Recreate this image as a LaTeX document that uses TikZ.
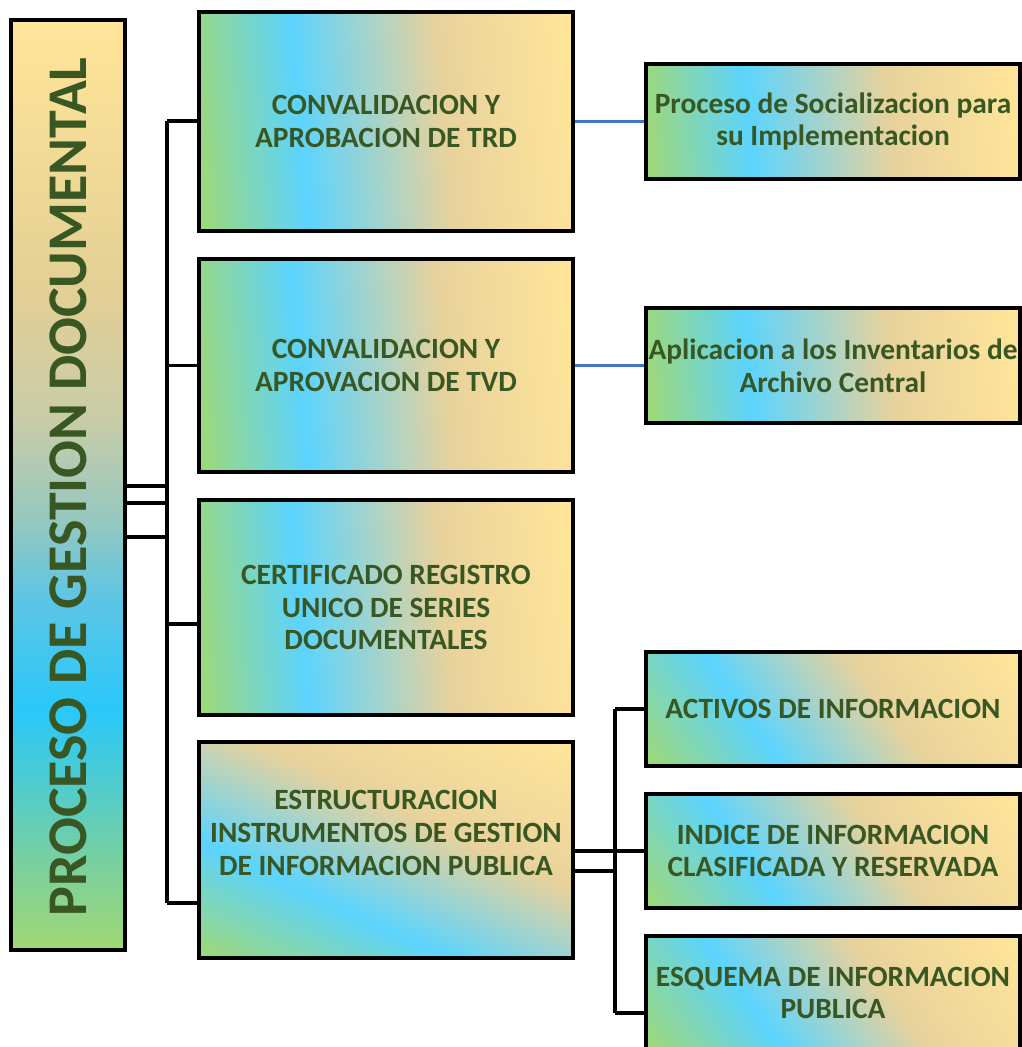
\documentclass[tikz,border=0pt]{standalone}
\usepackage{fontspec}
\setmainfont{Carlito}
\definecolor{cG}{HTML}{A0D874}
\definecolor{cC}{HTML}{5CD4FE}
\definecolor{cT}{HTML}{E8D29C}
\definecolor{cY}{HTML}{FFE699}
\definecolor{lTeal}{HTML}{78D0A0}
\definecolor{lC}{HTML}{29C8FA}
\definecolor{lC2}{HTML}{5CC5E5}
\definecolor{lMid}{HTML}{96C8C0}
\definecolor{lMid2}{HTML}{C8CCA8}
\definecolor{lT}{HTML}{E2CF95}
\definecolor{lY}{HTML}{FFE598}
\definecolor{txt}{HTML}{385723}
\definecolor{blueline}{HTML}{4472C4}
% horizontal-ish (angle 5)
\pgfdeclarehorizontalshading{gA}{100bp}{color(0bp)=(cG); color(22.92bp)=(cG); color(38.09bp)=(cC); color(58.13bp)=(cT); color(77.08bp)=(cY); color(100bp)=(cY)}
% angle 65
\pgfdeclarehorizontalshading{gB}{100bp}{color(0bp)=(cG); color(16.78bp)=(cG); color(36.71bp)=(cC); color(57.97bp)=(cT); color(83.22bp)=(cY); color(100bp)=(cY)}
% angle 35
\pgfdeclarehorizontalshading{gC}{100bp}{color(0bp)=(cG); color(15.18bp)=(cG); color(36.07bp)=(cC); color(58.36bp)=(cT); color(84.82bp)=(cY); color(100bp)=(cY)}
% left tall box, vertical
\pgfdeclareverticalshading{gL}{100bp}{color(0bp)=(cG); color(25bp)=(cG); color(29.8bp)=(lTeal); color(37.9bp)=(lC); color(43.8bp)=(lC2); color(48.1bp)=(lMid); color(53.5bp)=(lMid2); color(60bp)=(lT); color(75bp)=(lY); color(100bp)=(lY)}
\tikzset{
  boxtext/.style={text=txt, align=center, font=\fontsize{29.4}{32.8}\selectfont\bfseries},
  box/.style={draw=black, line width=3.2pt, rectangle, inner sep=0pt, minimum width=374pt, boxtext},
  conn/.style={draw=black, line width=3.2pt},
  bconn/.style={draw=blueline, line width=2.2pt},
}
\begin{document}
\begin{tikzpicture}[x=1pt,y=-1pt]
\useasboundingbox (0,0) rectangle (1021,1047);
% left tall box
\node[draw=black, line width=3.2pt, rectangle, inner sep=0pt, minimum width=114pt, minimum height=930pt, shading=gL, shading angle=0] (L) at (68,485) {};
\node[rotate=90, text=txt, font=\fontsize{56}{60}\selectfont\bfseries, inner sep=0pt] (Lt) at ([yshift=-2pt]L.center) {PROCESO DE GESTION DOCUMENTAL};
% middle column
\node[box, minimum height=219pt, shading=gA, shading angle=5] (B1) at (386,121.5) {CONVALIDACION Y\\APROBACION DE TRD};
\node[box, minimum height=213pt, shading=gA, shading angle=5] (B2) at (386,365.5) {CONVALIDACION Y\\APROVACION DE TVD};
\node[box, minimum height=215pt, shading=gA, shading angle=5] (B3) at (386,607.5) {CERTIFICADO REGISTRO\\UNICO DE SERIES\\DOCUMENTALES};
\node[box, minimum height=216pt, shading=gB, shading angle=65] (B4) at (386,850) {};
\node[boxtext, inner sep=0pt] (B4t) at ([yshift=17pt]B4.center) {ESTRUCTURACION\\INSTRUMENTOS DE GESTION\\DE INFORMACION PUBLICA};
% right column
\node[box, minimum height=115pt, shading=gA, shading angle=5] (R1) at (833,121.5) {Proceso de Socializacion para\\su Implementacion};
\node[box, minimum height=115pt, shading=gA, shading angle=5] (R2) at (833,365.5) {Aplicacion a los Inventarios de\\Archivo Central};
\node[box, minimum height=114pt, shading=gC, shading angle=35] (R3) at (833,709) {ACTIVOS DE INFORMACION};
\node[box, minimum height=114pt, shading=gC, shading angle=35] (R4) at (833,851) {INDICE DE INFORMACION\\CLASIFICADA Y RESERVADA};
\node[box, minimum height=114pt, shading=gC, shading angle=35] (R5) at (833,993) {ESQUEMA DE INFORMACION\\PUBLICA};
% left tree
\coordinate (tTop) at (167,121);
\coordinate (tBot) at (167,903);
\draw[conn] (tTop) -- (tBot);
\draw[conn] ([yshift=-1pt]L.east) -- ([yshift=-1pt]L.east -| tTop);
\draw[conn] ([yshift=-18pt]L.east) -- ([yshift=-18pt]L.east -| tTop);
\draw[conn] ([yshift=-52pt]L.east) -- ([yshift=-52pt]L.east -| tTop);
\draw[conn] (tTop) -- (B1.west |- tTop);
\draw[conn] (B2.west -| tTop) -- (B2.west);
\draw[conn] ([yshift=-16.5pt]B3.west -| tTop) -- ([yshift=-16.5pt]B3.west);
\draw[conn] (tBot) -- (B4.west |- tBot);
% blue connectors
\draw[bconn] (B1.east) -- (R1.west);
\draw[bconn] (B2.east) -- (R2.west);
% bottom right tree
\coordinate (uTop) at (615,709);
\coordinate (uBot) at (615,1013);
\draw[conn] (uTop) -- (uBot);
\draw[conn] (uTop) -- (R3.west);
\draw[conn] ([yshift=-1pt]B4.east) -- ([yshift=-1pt]B4.east -| uTop);
\draw[conn] ([yshift=-21pt]B4.east) -- ([yshift=-21pt]B4.east -| uTop);
\draw[conn] (R4.west -| uTop) -- (R4.west);
\draw[conn] (uBot) -- (R5.west |- uBot);
\end{tikzpicture}
\end{document}
